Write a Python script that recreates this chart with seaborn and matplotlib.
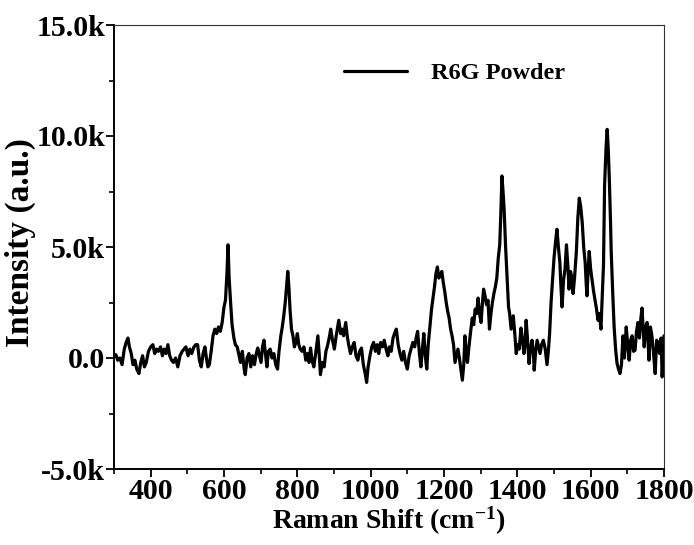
import numpy as np
import pandas as pd
import matplotlib
matplotlib.use("Agg")
import matplotlib.pyplot as plt
import seaborn as sns
from matplotlib.ticker import FixedLocator, FuncFormatter

raman_shift = [
    300, 305, 310, 316, 322, 328, 333, 338, 342, 347, 352, 357, 362, 368, 373, 378, 383, 388, 394, 400,
    406, 411, 416, 421, 427, 432, 437, 442, 447, 452, 457, 462, 468, 474, 480, 486, 491, 496, 502, 507,
    512, 518, 523, 528, 533, 538, 543, 548, 552, 556, 560, 565, 570, 575, 580, 585, 590, 595, 600, 604,
    608, 611, 614, 618, 622, 627, 631, 636, 640, 645, 650, 655, 658, 663, 668, 673, 678, 683, 688, 692,
    697, 701, 705, 709, 713, 717, 721, 726, 731, 736, 741, 746, 750, 755, 759, 763, 767, 771, 774, 777,
    780, 784, 788, 792, 796, 800, 804, 808, 813, 818, 823, 828, 832, 836, 840, 845, 850, 856, 860, 863,
    868, 873, 878, 883, 888, 891, 896, 901, 906, 913, 918, 922, 926, 932, 936, 940, 945, 950, 955, 960,
    965, 970, 975, 980, 985, 989, 993, 998, 1003, 1008, 1013, 1018, 1022, 1027, 1032, 1037, 1042, 1047, 1051, 1056,
    1061, 1065, 1070, 1075, 1080, 1085, 1090, 1095, 1100, 1105, 1110, 1115, 1120, 1124, 1128, 1133, 1137, 1141, 1145, 1149,
    1153, 1157, 1162, 1166, 1170, 1174, 1178, 1182, 1186, 1190, 1194, 1198, 1202, 1206, 1210, 1214, 1218, 1222, 1226, 1230,
    1234, 1238, 1242, 1246, 1250, 1254, 1257, 1261, 1264, 1268, 1272, 1277, 1281, 1285, 1289, 1293, 1297, 1301, 1305, 1308,
    1312, 1316, 1320, 1324, 1328, 1332, 1336, 1340, 1344, 1348, 1352, 1355, 1358, 1361, 1364, 1368, 1372, 1376, 1379, 1383,
    1386, 1389, 1393, 1397, 1401, 1405, 1410, 1414, 1418, 1421, 1424, 1428, 1432, 1436, 1440, 1444, 1446, 1450, 1454, 1458,
    1462, 1466, 1471, 1476, 1481, 1485, 1488, 1492, 1496, 1500, 1504, 1508, 1512, 1516, 1519, 1522, 1526, 1530, 1534, 1538,
    1541, 1545, 1548, 1552, 1556, 1561, 1565, 1569, 1573, 1577, 1581, 1585, 1588, 1590, 1593, 1596, 1600, 1604, 1608, 1612,
    1616, 1620, 1624, 1628, 1632, 1635, 1638, 1642, 1645, 1648, 1651, 1654, 1656, 1660, 1664, 1668, 1672, 1676, 1680, 1684,
    1688, 1692, 1697, 1701, 1705, 1709, 1713, 1717, 1721, 1725, 1729, 1733, 1737, 1740, 1743, 1746, 1750, 1754, 1757, 1759,
    1763, 1767, 1771, 1776, 1780, 1784, 1788, 1792, 1795, 1800,
]

intensity_k = [
    0.1, 0.15, -0.1, 0.0, -0.3, 0.4, 0.7, 0.9, 0.5, 0.2, -0.3, -0.1, -0.5, -0.7, -0.2, 0.1, -0.4, -0.2, 0.3, 0.5,
    0.6, 0.2, 0.4, 0.3, 0.5, 0.1, 0.4, 0.2, 0.6, 0.1, -0.1, -0.2, 0.0, -0.4, 0.1, 0.3, 0.4, 0.5, 0.1, 0.4,
    0.2, 0.5, 0.6, 0.6, -0.1, -0.4, 0.2, 0.5, 0.0, -0.4, -0.3, 0.3, 1.0, 1.3, 1.1, 1.4, 1.2, 1.6, 2.3, 2.6,
    3.8, 5.1, 3.6, 2.5, 1.5, 0.9, 0.6, 0.5, 0.2, -0.2, 0.3, -0.5, -0.75, 0.0, 0.2, -0.4, 0.1, -0.3, 0.2, 0.45,
    0.1, -0.2, 0.5, 0.8, 0.2, -0.4, 0.3, 0.4, 0.0, 0.2, -0.3, -0.5, 0.3, 1.0, 1.4, 1.9, 2.5, 3.3, 3.9, 3.2,
    2.2, 1.3, 1.0, 0.5, 0.7, 1.1, 0.6, 0.4, 0.3, 0.5, -0.1, 0.2, -0.2, 0.45, -0.1, -0.4, 0.2, 1.0, 0.1, -0.75,
    -0.2, -0.4, 0.3, 0.6, 1.0, 1.3, 0.8, 0.4, 1.0, 1.7, 1.1, 1.3, 1.0, 1.6, 1.0, 0.6, 0.2, 0.5, 0.7, 0.1,
    -0.1, 0.3, 0.45, -0.3, -0.7, -1.1, -0.4, 0.1, 0.5, 0.7, 0.3, 0.6, 0.2, 0.7, 0.5, 0.8, 0.4, 0.1, 0.5, 0.3,
    0.9, 1.1, 1.3, 0.6, 0.2, -0.1, 0.3, -0.2, -0.5, 0.1, 0.4, 0.7, 0.5, 0.9, 1.2, 0.2, -0.4, 0.4, 1.1, 0.1,
    -0.5, 0.6, 1.5, 2.2, 2.7, 3.2, 3.8, 4.1, 3.6, 3.7, 3.9, 3.4, 3.0, 2.5, 2.1, 1.8, 1.3, 1.0, 0.6, -0.2,
    0.1, 0.4, 0.0, -0.5, -1.0, -0.3, 1.0, 0.2, -0.2, 0.5, 1.1, 1.8, 1.5, 2.2, 2.0, 2.7, 2.0, 1.6, 2.5, 3.1,
    2.8, 2.4, 2.6, 1.3, 2.0, 2.5, 2.9, 3.2, 3.6, 4.5, 5.1, 6.5, 8.2, 7.5, 6.7, 5.0, 3.6, 2.3, 2.0, 1.3,
    1.6, 1.9, 1.1, 0.2, 0.6, 0.4, 1.35, 0.8, 0.2, 0.6, 1.7, 0.8, -0.25, 0.4, 0.8, 0.2, -0.55, 0.3, 0.8, 0.5,
    0.2, 0.6, 0.8, 0.4, -0.3, 0.4, 1.1, 2.5, 3.5, 4.5, 5.2, 5.8, 5.0, 4.3, 3.2, 2.3, 3.5, 4.0, 5.1, 4.1,
    3.1, 3.9, 3.7, 2.9, 3.6, 4.8, 6.3, 7.2, 6.8, 6.1, 5.0, 4.3, 3.3, 2.8, 3.9, 4.8, 4.0, 3.5, 3.0, 2.6,
    2.2, 1.7, 2.0, 1.3, 3.0, 4.2, 7.8, 9.5, 10.3, 9.4, 8.0, 6.2, 4.8, 3.0, 1.4, 0.4, -0.25, -0.5, -0.7, -0.3,
    1.0, 0.0, 1.4, 0.6, -0.1, 0.8, 1.0, 0.3, 0.35, 1.2, 1.6, 0.9, 1.8, 2.25, 1.4, 0.5, 1.4, 1.6, 0.6, -0.1,
    1.4, 1.0, 0.3, -0.7, 0.8, 0.6, 0.2, 0.9, -0.85, 1.0,
]

series_label = "R6G Powder"
x_ticks = [400, 600, 800, 1000, 1200, 1400, 1600, 1800]
y_ticks = [-5000, 0, 5000, 10000, 15000]
y_tick_labels = ["-5.0k", "0.0", "5.0k", "10.0k", "15.0k"]

df = pd.DataFrame({"shift": raman_shift, "intensity": np.array(intensity_k) * 1000.0})

sns.set_style("ticks")
plt.rcParams["font.family"] = ["Liberation Serif", "DejaVu Serif"]
plt.rcParams["font.weight"] = "bold"
plt.rcParams["text.color"] = "black"
plt.rcParams["axes.labelcolor"] = "black"
plt.rcParams["xtick.color"] = "black"
plt.rcParams["ytick.color"] = "black"
plt.rcParams["mathtext.fontset"] = "custom"
plt.rcParams["mathtext.rm"] = "Liberation Serif:bold"
plt.rcParams["mathtext.it"] = "Liberation Serif:bold"
plt.rcParams["mathtext.bf"] = "Liberation Serif:bold"
plt.rcParams["mathtext.default"] = "rm"

fig = plt.figure(figsize=(6.94, 5.45), dpi=100)
ax = fig.add_axes([114 / 694, 76 / 545, 550 / 694, 444 / 545])

sns.lineplot(data=df, x="shift", y="intensity", ax=ax, color="black",
             linewidth=2.3, label=series_label, sort=False)

ax.set_xlim(300, 1800)
ax.set_ylim(-5000, 15000)
ax.xaxis.set_major_locator(FixedLocator(x_ticks))
ax.xaxis.set_minor_locator(FixedLocator([300, 500, 700, 900, 1100, 1300, 1500, 1700]))
ax.yaxis.set_major_locator(FixedLocator(y_ticks))
ax.yaxis.set_minor_locator(FixedLocator([-2500, 2500, 7500, 12500]))
ax.yaxis.set_major_formatter(FuncFormatter(
    lambda v, p: y_tick_labels[y_ticks.index(int(round(v)))] if int(round(v)) in y_ticks else ""))

ax.tick_params(axis="both", which="major", direction="out", length=5.5, width=1.3,
               labelsize=21.5, colors="black", pad=0.8)
ax.tick_params(axis="both", which="minor", direction="out", length=3.5, width=1.2)
ax.tick_params(top=False, right=False, which="both")
for lab in ax.get_xticklabels() + ax.get_yticklabels():
    lab.set_fontweight("bold")

for s in ["left", "bottom"]:
    ax.spines[s].set_linewidth(1.4)
    ax.spines[s].set_color("black")
for s in ["top", "right"]:
    ax.spines[s].set_visible(True)
    ax.spines[s].set_linewidth(0.8)
    ax.spines[s].set_color("#333333")

ax.set_xlabel(r"Raman Shift (cm$^{-1}$)", fontsize=20, fontweight="bold", labelpad=0)
ax.set_ylabel("Intensity (a.u.)", fontsize=24, fontweight="bold")
ax.yaxis.set_label_coords(-0.142, 0.51)

leg = ax.legend(loc="upper right", bbox_to_anchor=(0.86, 0.965), frameon=False,
                fontsize=17.5, handlelength=2.6, handletextpad=1.0)
for t in leg.get_texts():
    t.set_fontweight("bold")
    t.set_color("black")

fig.savefig("out.png", dpi=100)
